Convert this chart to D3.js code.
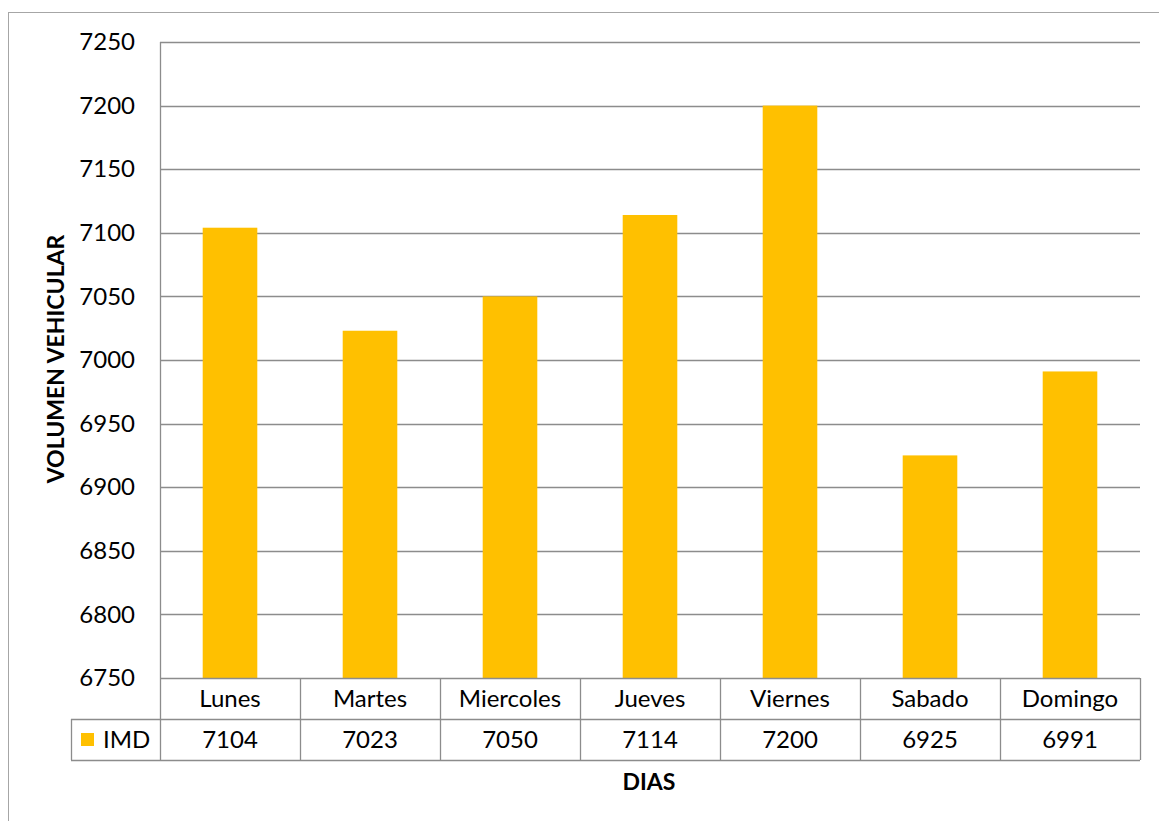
<!DOCTYPE html>
<html>
<head>
<meta charset="utf-8">
<script src="https://cdn.jsdelivr.net/npm/d3@7"></script>
<style>
  html, body { margin: 0; padding: 0; background: #fff; }
  svg { display: block; font-family: Lato, "Open Sans", sans-serif; }
</style>
</head>
<body>
<svg id="chart" width="1159" height="821"></svg>
<script>
// Daily traffic volume (IMD) per weekday
const categories = ["Lunes", "Martes", "Miercoles", "Jueves", "Viernes", "Sabado", "Domingo"];
const imdValues = [7104, 7023, 7050, 7114, 7200, 6925, 6991];
const yTicks = [6750, 6800, 6850, 6900, 6950, 7000, 7050, 7100, 7150, 7200, 7250];
const seriesName = "IMD";
const yTitle = "VOLUMEN VEHICULAR";
const xTitle = "DIAS";

const svg = d3.select("#chart");
const W = 1159, H = 821;
const plot = { left: 160, right: 1140, top: 42, bottom: 678 };
const rowH = 41;
const tableLeft = 71;
const barColor = "#FFC000";
const gridColor = "#8C8C8C";
const fontSize = 24;
const titleSize = 23;

// outer chart frame
svg.append("rect")
  .attr("x", 8.5).attr("y", 12.5)
  .attr("width", W).attr("height", H)
  .attr("fill", "none").attr("stroke", "#A6A6A6").attr("stroke-width", 1);

const x = d3.scaleBand().domain(categories).range([plot.left, plot.right]).paddingInner(0).paddingOuter(0);
const y = d3.scaleLinear().domain([6750, 7250]).range([plot.bottom, plot.top]);

// horizontal gridlines
svg.append("g").selectAll("line").data(yTicks.slice(1)).join("line")
  .attr("x1", plot.left).attr("x2", plot.right)
  .attr("y1", d => Math.round(y(d)) + 0.5).attr("y2", d => Math.round(y(d)) + 0.5)
  .attr("stroke", gridColor).attr("stroke-width", 1.3);

// y axis labels
const yAxis = d3.axisLeft(y).tickValues(yTicks).tickSize(0).tickPadding(25).tickFormat(d3.format("d"));
const gy = svg.append("g").attr("transform", `translate(${plot.left},0)`).call(yAxis);
gy.select(".domain").remove();
gy.selectAll("text").attr("font-size", fontSize).attr("fill", "#000").attr("font-family", "Lato, sans-serif");

// bars
const barW = x.bandwidth() * 0.39;
svg.append("g").selectAll("rect").data(categories).join("rect")
  .attr("x", d => x(d) + (x.bandwidth() - barW) / 2)
  .attr("width", barW)
  .attr("y", (d, i) => y(imdValues[i]))
  .attr("height", (d, i) => y(6750) - y(imdValues[i]))
  .attr("fill", barColor);

// vertical axis line
svg.append("line")
  .attr("x1", plot.left + 0.5).attr("x2", plot.left + 0.5)
  .attr("y1", plot.top).attr("y2", plot.bottom + 2 * rowH)
  .attr("stroke", gridColor).attr("stroke-width", 1.3);

// data table
const table = svg.append("g").attr("stroke", gridColor).attr("stroke-width", 1.3);
// horizontal rules
table.append("line").attr("x1", plot.left).attr("x2", plot.right)
  .attr("y1", plot.bottom + 0.5).attr("y2", plot.bottom + 0.5);
[1, 2].forEach(r => {
  table.append("line").attr("x1", tableLeft).attr("x2", plot.right)
    .attr("y1", plot.bottom + r * rowH + 0.5).attr("y2", plot.bottom + r * rowH + 0.5);
});
// column separators
categories.forEach(c => {
  const xe = Math.round(x(c) + x.bandwidth()) + 0.5;
  table.append("line").attr("x1", xe).attr("x2", xe)
    .attr("y1", plot.bottom).attr("y2", plot.bottom + 2 * rowH);
});
table.append("line").attr("x1", tableLeft + 0.5).attr("x2", tableLeft + 0.5)
  .attr("y1", plot.bottom + rowH).attr("y2", plot.bottom + 2 * rowH);

// category header row
svg.append("g").selectAll("text").data(categories).join("text")
  .attr("x", d => x(d) + x.bandwidth() / 2)
  .attr("y", plot.bottom + rowH / 2)
  .attr("dy", "0.36em")
  .attr("text-anchor", "middle")
  .attr("font-size", fontSize)
  .text(d => d);

// values row
svg.append("g").selectAll("text").data(imdValues).join("text")
  .attr("x", (d, i) => x(categories[i]) + x.bandwidth() / 2)
  .attr("y", plot.bottom + rowH * 1.5)
  .attr("dy", "0.36em")
  .attr("text-anchor", "middle")
  .attr("font-size", fontSize)
  .text(d => d);

// legend key inside the table
svg.append("rect")
  .attr("x", 81).attr("y", plot.bottom + rowH * 1.5 - 6.5)
  .attr("width", 13).attr("height", 13)
  .attr("fill", barColor);
svg.append("text")
  .attr("x", 103).attr("y", plot.bottom + rowH * 1.5)
  .attr("dy", "0.36em")
  .attr("font-size", fontSize)
  .text(seriesName);

// axis titles
svg.append("text")
  .attr("transform", `translate(56,359) rotate(-90)`)
  .attr("text-anchor", "middle")
  .attr("dy", "0.36em")
  .attr("font-size", titleSize)
  .attr("font-weight", "bold")
  .text(yTitle);

svg.append("text")
  .attr("x", 649)
  .attr("y", 782)
  .attr("dy", "0.36em")
  .attr("text-anchor", "middle")
  .attr("font-size", titleSize)
  .attr("font-weight", "bold")
  .text(xTitle);
</script>
</body>
</html>
